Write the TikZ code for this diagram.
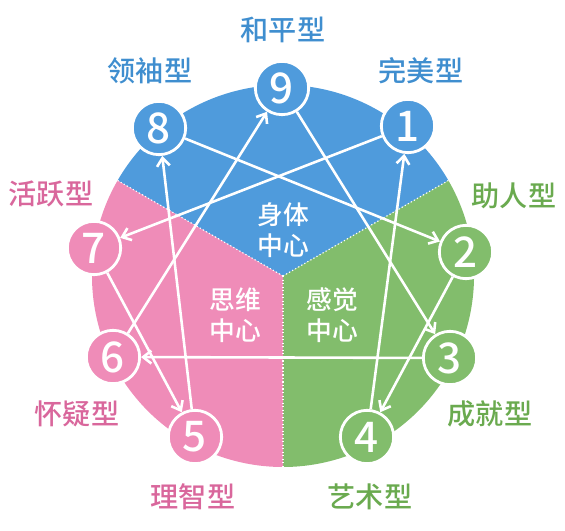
\documentclass[tikz,border=0pt]{standalone}
\usepackage{fontspec}
\setmainfont{Noto Sans CJK SC}
\newfontfamily\medfont{Noto Sans CJK SC Medium}
\usetikzlibrary{arrows.meta}
\definecolor{bodyblue}{HTML}{4F9BDC}
\definecolor{feelgreen}{HTML}{82BD6C}
\definecolor{thinkpink}{HTML}{EF8CB8}
\definecolor{bluetext}{HTML}{3F8ECF}
\definecolor{greentext}{HTML}{6AAA4F}
\definecolor{pinktext}{HTML}{D9679C}
\begin{document}
\begin{tikzpicture}[x=0.03cm, y=0.03cm,
    num/.style={circle, draw=white, line width=2.4pt, minimum size=1.6cm, inner sep=0pt,
        text=white, font=\medfont\fontsize{36}{36}\selectfont},
    typ/.style={font=\medfont\fontsize{24}{24}\selectfont},
    ctr/.style={text=white, align=center, font=\medfont\fontsize{22}{26}\selectfont},
    flow/.style={white, line width=2.2pt, -{Straight Barb[length=7pt,width=11pt,line width=2.2pt]}}]
    \useasboundingbox (0,0) rectangle (565,530);

    % Sectors
    \coordinate (c) at (283,254);
    \fill[bodyblue] (c) -- ++(150:191) arc[start angle=150, end angle=30, radius=191] -- cycle;
    \fill[feelgreen] (c) -- ++(30:191) arc[start angle=30, end angle=-90, radius=191] -- cycle;
    \fill[thinkpink] (c) -- ++(-90:191) arc[start angle=270, end angle=150, radius=191] -- cycle;
    \draw[white, dotted, line width=1pt] (c) -- ++(150:191);
    \draw[white, dotted, line width=1pt] (c) -- ++(30:191);
    \draw[white, dotted, line width=1pt] (c) -- ++(-90:191);

    % Centres
    \node[ctr] (body) at (283,300) {身体\\中心};
    \node[ctr] (head) at (235,215) {思维\\中心};
    \node[ctr] (heart) at (332,215) {感觉\\中心};

    % Points
    \node[num, fill=bodyblue] (n9) at (282,442) {9};
    \node[num, fill=bodyblue] (n1) at (408,404) {1};
    \node[num, fill=feelgreen] (n2) at (466,278) {2};
    \node[num, fill=feelgreen] (n3) at (450,172) {3};
    \node[num, fill=feelgreen] (n4) at (367,93) {4};
    \node[num, fill=thinkpink] (n5) at (195,93) {5};
    \node[num, fill=thinkpink] (n6) at (113,173) {6};
    \node[num, fill=thinkpink] (n7) at (94,282) {7};
    \node[num, fill=bodyblue] (n8) at (159,402) {8};

    % Types
    \node[typ, text=bluetext] (t9) at (283,500) {和平型};
    \node[typ, text=bluetext] (t1) at (421,459) {完美型};
    \node[typ, text=greentext] (t2) at (514,334) {助人型};
    \node[typ, text=greentext] (t3) at (490,116) {成就型};
    \node[typ, text=greentext] (t4) at (370,33) {艺术型};
    \node[typ, text=pinktext] (t5) at (193,33) {理智型};
    \node[typ, text=pinktext] (t6) at (77,116) {怀疑型};
    \node[typ, text=pinktext] (t7) at (51,336) {活跃型};
    \node[typ, text=bluetext] (t8) at (150,459) {领袖型};

    % Arrows
    \draw[flow] (n1) -- (n7);
    \draw[flow] (n7) -- (n5);
    \draw[flow] (n5) -- (n8);
    \draw[flow] (n8) -- (n2);
    \draw[flow] (n2) -- (n4);
    \draw[flow] (n4) -- (n1);
    \draw[flow] (n9) -- (n3);
    \draw[flow] (n3) -- (n6);
    \draw[flow] (n6) -- (n9);
\end{tikzpicture}
\end{document}
